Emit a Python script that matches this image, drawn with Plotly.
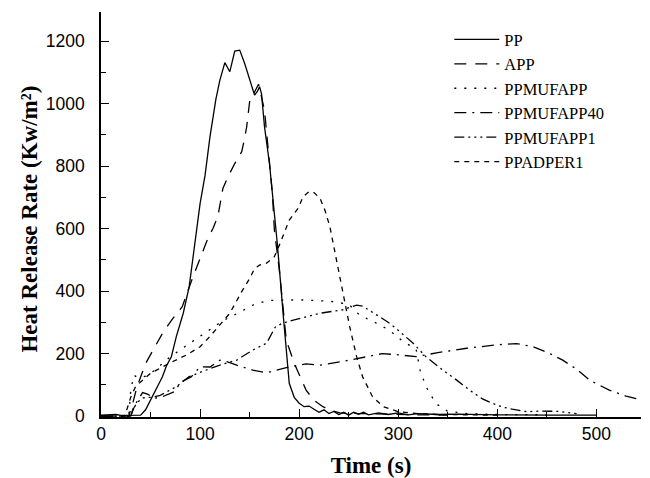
import plotly.graph_objects as go

# ---- data ----
pp_t = [0, 5, 10, 15, 20, 30, 40, 45, 50, 55, 62, 66, 71, 76, 83, 89, 96, 100, 105, 110, 116, 120, 125,
        130, 135, 140, 145, 151, 155, 158, 160, 162, 165, 170, 174, 178, 184, 190, 195, 200, 205, 210,
        215, 220, 225, 230, 235, 240, 245, 250, 255, 260, 265, 270, 280, 290, 300, 310, 320, 340, 360,
        380, 400, 450, 500]
pp_v = [3, 4, 6, 5, 2, 2, 3, 20, 50, 80, 126, 160, 190, 254, 329, 414, 590, 680, 770, 894, 1015, 1075, 1131,
        1102, 1168, 1171, 1128, 1065, 1027, 1040, 1054, 1032, 926, 809, 690, 550, 320, 105, 60, 41, 30, 32,
        22, 12, 20, 8, 15, 5, 12, 3, 12, 6, 12, 4, 10, 5, 10, 4, 8, 5, 6,
        4, 4, 3, 3]

app_t = [0, 28, 32, 36, 40, 45, 55, 63, 72, 82, 91, 100, 108, 113, 118, 123, 128, 135, 142, 145, 147, 150,
         155, 159, 165, 168, 170, 173, 175, 180, 185, 187, 195, 207, 215, 224, 232, 241, 260, 280, 300, 320, 350]
app_v = [0, 0, 40, 90, 125, 168, 225, 270, 310, 350, 430, 505, 570, 600, 640, 728, 765, 808, 846, 890, 925, 1006,
         1040, 1062, 979, 883, 819, 712, 595, 467, 307, 243, 169, 83, 50, 30, 18, 10, 8, 6, 5, 4, 3]

mufapp_t = [0, 28, 30, 33, 38, 45, 55, 66, 80, 93, 108, 123, 138, 155, 170, 185, 200, 215, 232, 250, 261,
            278, 291, 305, 318, 322, 328, 338, 350, 370, 400, 450]
mufapp_v = [0, 0, 80, 131, 122, 128, 148, 180, 212, 240, 275, 305, 329, 358, 370, 372, 372, 370, 367, 358, 323,
            297, 275, 238, 215, 147, 94, 40, 15, 8, 5, 4]

mufapp40_t = [0, 30, 33, 38, 42, 47, 54, 62, 74, 81, 91, 100, 110, 120, 127, 137, 153, 167, 187, 207, 221,
              251, 284, 300, 318, 340, 369, 400, 419, 436, 453, 466, 480, 493, 513, 530, 546]
mufapp40_v = [0, 0, 30, 55, 75, 70, 57, 62, 78, 110, 125, 158, 157, 179, 174, 163, 147, 139, 155, 167, 163,
              179, 200, 196, 190, 203, 217, 228, 232, 222, 200, 179, 150, 115, 83, 64, 51]

mufapp1_t = [0, 30, 33, 37, 42, 50, 59, 68, 76, 89, 100, 110, 125, 137, 153, 167, 176, 183, 194, 207, 221,
             244, 258, 264, 275, 289, 298, 315, 328, 345, 359, 372, 385, 394, 405, 415, 430, 445, 461, 480]
mufapp1_v = [0, 0, 25, 45, 58, 60, 65, 80, 94, 126, 140, 152, 168, 179, 211, 233, 285, 297, 307, 317, 329,
             340, 355, 352, 330, 302, 280, 233, 190, 147, 115, 83, 55, 42, 29, 22, 14, 16, 15, 8]

adper_t = [0, 24, 27, 30, 35, 40, 50, 56, 69, 86, 100, 110, 121, 130, 142, 150, 155, 160, 167, 175, 180, 185,
           190, 199, 204, 210, 215, 221, 226, 231, 236, 241, 246, 251, 258, 264, 274, 285, 300, 320, 340, 360, 400]
adper_v = [0, 0, 30, 60, 95, 110, 137, 147, 169, 195, 222, 255, 297, 329, 398, 440, 472, 483, 489, 510, 547, 585,
           627, 665, 702, 718, 715, 697, 659, 606, 525, 446, 371, 286, 190, 126, 62, 30, 14, 8, 5, 4, 3]

names = ["PP", "APP", "PPMUFAPP", "PPMUFAPP40", "PPMUFAPP1", "PPADPER1"]
x_ticks = [0, 100, 200, 300, 400, 500]
y_ticks = [0, 200, 400, 600, 800, 1000, 1200]
x_title = "Time (s)"
y_title = "Heat Release Rate (Kw/m²)"

series = [(pp_t, pp_v), (app_t, app_v), (mufapp_t, mufapp_v),
          (mufapp40_t, mufapp40_v), (mufapp1_t, mufapp1_v), (adper_t, adper_v)]
dashes = ["solid", "12px,9px", "2px,8px", "12px,6px,2px,6px",
          "10px,4px,2px,4px,2px,4px,2px,4px", "5px,5px"]

fig = go.Figure()
for (t, v), name, d in zip(series, names, dashes):
    fig.add_trace(go.Scatter(x=t, y=v, mode="lines", name=name,
                             line=dict(color="black", width=1.3, dash=d)))

tickfont = dict(family="Liberation Sans, Arial, sans-serif", size=17.5, color="black")
titlefont = dict(family="Liberation Serif, Times New Roman, serif", size=23, color="black", weight="bold")

fig.update_layout(
    width=650, height=478,
    margin=dict(l=101, r=9, t=12, b=61),
    paper_bgcolor="white", plot_bgcolor="white",
    showlegend=True,
    legend=dict(x=0.645, y=0.975, xanchor="left", yanchor="top",
                bgcolor="rgba(0,0,0,0)", borderwidth=0, itemwidth=45,
                font=dict(family="Liberation Serif, Times New Roman, serif", size=16.5, color="black"),
                tracegroupgap=0),
    xaxis=dict(range=[0, 545], tickvals=x_ticks, ticktext=[str(v) for v in x_ticks],
               showline=True, linecolor="black", linewidth=1.5, mirror=False,
               ticks="inside", ticklen=8, tickwidth=1.2, tickcolor="black",
               minor=dict(dtick=50, tick0=0, ticks="inside", ticklen=5, tickwidth=1.2, tickcolor="black"),
               showgrid=False, zeroline=False, tickfont=tickfont, automargin=False,
               title=dict(text=x_title, font=titlefont)),
    yaxis=dict(range=[-3, 1293], tickvals=y_ticks, ticktext=[str(v) for v in y_ticks],
               showline=True, linecolor="black", linewidth=1.5, mirror=False,
               ticks="inside", ticklen=8, tickwidth=1.2, tickcolor="black",
               minor=dict(dtick=100, tick0=0, ticks="inside", ticklen=5, tickwidth=1.2, tickcolor="black"),
               showgrid=False, zeroline=False, tickfont=tickfont, ticklabelstandoff=11, automargin=False),
    annotations=[dict(text=y_title, xref="paper", yref="paper", x=-0.1315, y=0.49,
                      xanchor="center", yanchor="middle", textangle=-90, showarrow=False,
                      font=titlefont)],
)

fig.write_html("out.html", config={"displayModeBar": False},
               post_script="document.body.style.margin='0';document.body.style.overflow='hidden';")
